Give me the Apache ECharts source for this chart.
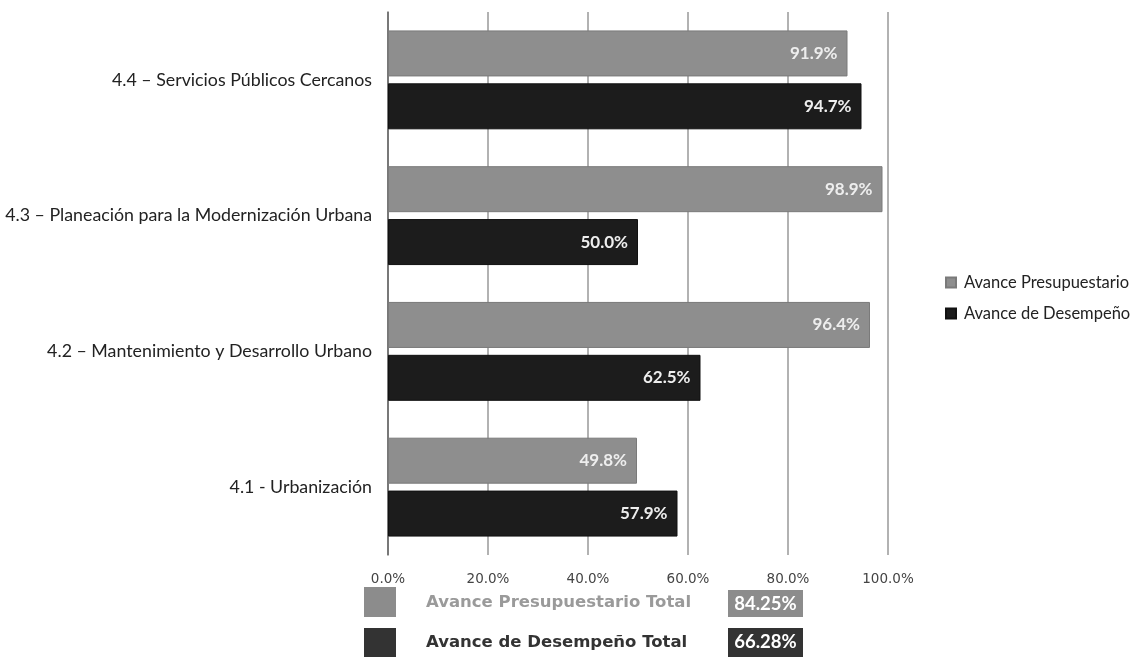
<!DOCTYPE html>
<html><head><meta charset="utf-8">
<script src="https://cdn.jsdelivr.net/npm/echarts@6/dist/echarts.min.js"></script>
<style>html,body{margin:0;padding:0;background:#fff}#c{width:1138px;height:658px}</style>
</head><body><div id="c"></div>
<script>
const categories = ['4.4 – Servicios Públicos Cercanos', '4.3 – Planeación para la Modernización Urbana', '4.2 – Mantenimiento y Desarrollo Urbano', '4.1 - Urbanización'];
const presupuestario = [91.9, 98.9, 96.4, 49.8];
const desempeno = [94.7, 50.0, 62.5, 57.9];
const seriesNames = ['Avance Presupuestario', 'Avance de Desempeño'];
const totalNames = ['Avance Presupuestario Total', 'Avance de Desempeño Total'];
const totals = [84.25, 66.28];
const xTicks = [0, 20, 40, 60, 80, 100];

const chart = echarts.init(document.getElementById('c'));
const lbl = {show: true, position: 'insideRight', distance: 10, color: '#eeeeee', fontWeight: 'bold', fontSize: 17, fontFamily: 'Lato', formatter: p => p.value.toFixed(1) + '%'};
const numFont = 'bold 18.5px "Lato", sans-serif';
const nameFont = 'bold 16.5px "DejaVu Sans"';
chart.setOption({
  animation: false,
  grid: {left: 388, right: 250, top: 12, bottom: 103},
  legend: {
    orient: 'vertical', left: 945, top: 274, padding: 0, itemGap: 14, itemWidth: 10, itemHeight: 10, icon: 'rect',
    data: seriesNames,
    textStyle: {color: '#222', fontSize: 16.5, fontFamily: 'Lato', padding: [0, 0, 0, 3]}
  },
  xAxis: {
    type: 'value', min: 0, max: 100, interval: 20,
    axisLine: {show: false}, axisTick: {show: false},
    splitLine: {lineStyle: {color: '#999', width: 1.5}},
    axisLabel: {margin: 17, color: '#444', fontSize: 13.5, fontFamily: 'DejaVu Sans', formatter: v => v.toFixed(1) + '%'}
  },
  yAxis: {
    type: 'category', inverse: true, data: categories,
    axisLine: {lineStyle: {color: '#666', width: 1.5}}, axisTick: {show: false},
    axisLabel: {margin: 16, color: '#222', fontSize: 17.8, fontFamily: 'Lato', padding: [5, 0, 0, 0]}
  },
  series: [
    {name: seriesNames[0], type: 'bar', data: presupuestario, barWidth: 46, barGap: '15%',
     itemStyle: {color: '#8e8e8e', borderColor: '#7a7a7a', borderWidth: 1}, label: lbl},
    {name: seriesNames[1], type: 'bar', data: desempeno, barWidth: 46,
     itemStyle: {color: '#1c1c1c', borderColor: '#111', borderWidth: 1}, label: lbl}
  ],
  graphic: [
    {type: 'rect', left: 364, top: 587, shape: {width: 32, height: 30}, style: {fill: '#8c8c8c'}},
    {type: 'text', left: 426, top: 594, style: {text: totalNames[0], fill: '#9a9a9a', font: nameFont}},
    {type: 'rect', left: 728, top: 590, shape: {width: 75, height: 27}, style: {fill: '#8c8c8c'}},
    {type: 'text', x: 765.5, y: 604, style: {text: totals[0].toFixed(2) + '%', fill: '#fff', font: numFont, align: 'center', verticalAlign: 'middle'}},
    {type: 'rect', left: 364, top: 628, shape: {width: 32, height: 29}, style: {fill: '#333'}},
    {type: 'text', left: 426, top: 634, style: {text: totalNames[1], fill: '#333', font: nameFont}},
    {type: 'rect', left: 728, top: 628, shape: {width: 75, height: 29}, style: {fill: '#333'}},
    {type: 'text', x: 765.5, y: 642.5, style: {text: totals[1].toFixed(2) + '%', fill: '#fff', font: numFont, align: 'center', verticalAlign: 'middle'}}
  ]
});
</script></body></html>
